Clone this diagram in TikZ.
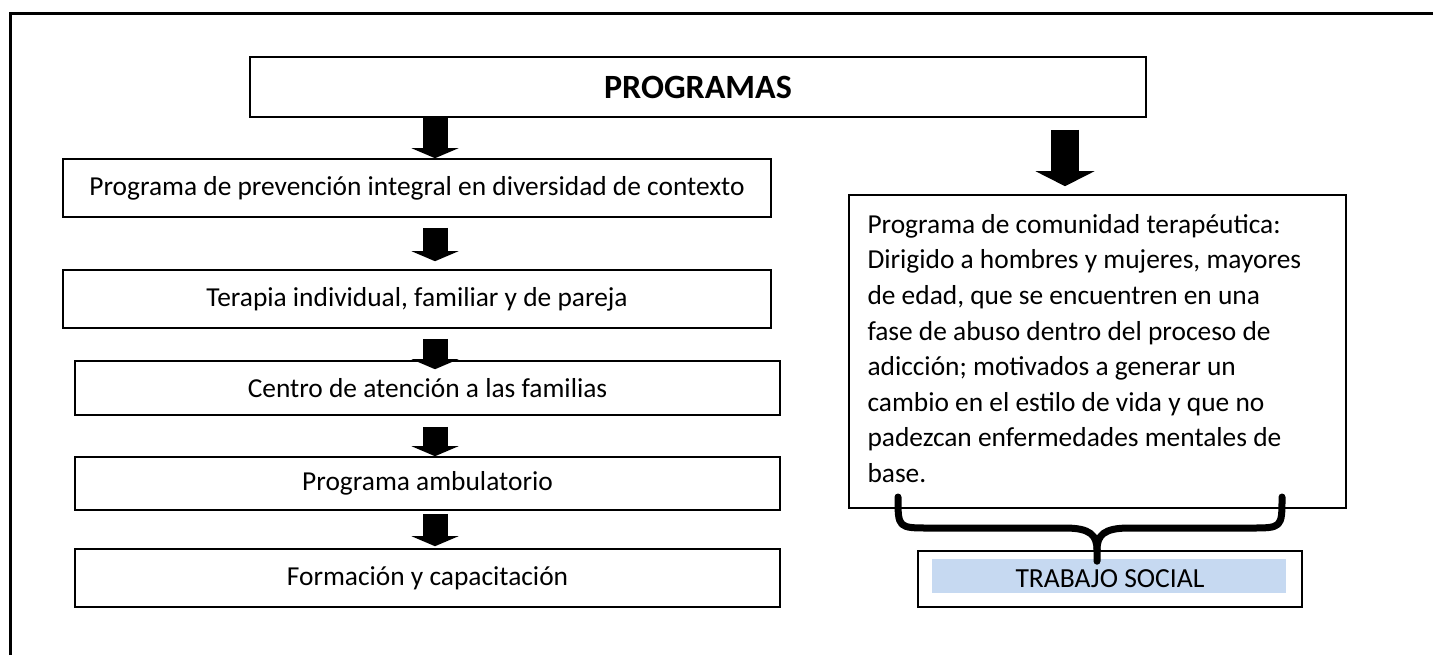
\documentclass[tikz,border=0pt]{standalone}
\usepackage{fontspec}
\setmainfont{Carlito}
\usetikzlibrary{arrows.meta,calc}
\definecolor{tsblue}{HTML}{C6D9F1}
\begin{document}
\begin{tikzpicture}[x=0.5pt,y=-0.5pt,
  box/.style={draw, line width=0.8pt, inner sep=0pt, align=flush center, font=\fontsize{13.7}{17.8}\selectfont},
  barrow/.style={line width=12.5pt, -{Triangle[width=23.5pt,length=5pt,line width=0pt]}},
  bigarrow/.style={line width=14pt, -{Triangle[width=29.5pt,length=7.5pt,line width=0pt]}},
  brace/.style={line width=3.5pt, line cap=round, line join=round}]
\useasboundingbox (0,0) rectangle (1433,655);
\draw[line width=1.5pt] (10,655) -- (10,13) -- (1433,13);

\node[box, minimum width=448pt, minimum height=30pt, font=\fontsize{17}{20}\selectfont\bfseries] (prog) at (698,87) {PROGRAMAS};
\node[box, minimum width=354pt, minimum height=29pt] (b1) at (417,188) {Programa de prevención integral en diversidad de contexto};
\node[box, minimum width=354pt, minimum height=29pt] (b2) at (417,299) {Terapia individual, familiar y de pareja};
\node[box, minimum width=352.5pt, minimum height=27pt] (b3) at (427.5,388) {Centro de atención a las familias};
\node[box, minimum width=352.5pt, minimum height=26.5pt] (b4) at (427.5,483.5) {Programa ambulatorio};
\node[box, minimum width=352.5pt, minimum height=29pt] (b5) at (427.5,578) {Formación y capacitación};

\node[box, minimum width=248.5pt, minimum height=156.5pt] (rb) at (1097.5,351.5) {};
\node[align=flush left, text width=230pt, inner sep=0pt, font=\fontsize{13.7}{17.8}\selectfont] (rbt) at ($(rb.center)+(0,-3)$)
 {Programa de comunidad terapéutica:\\
  Dirigido a hombres y mujeres, mayores\\
  de edad, que se encuentren en una\\
  fase de abuso dentro del proceso de\\
  adicción; motivados a generar un\\
  cambio en el estilo de vida y que no\\
  padezcan enfermedades mentales de\\
  base.};

\node[fill=tsblue, minimum width=177pt, minimum height=17pt, inner sep=0pt] (tsfill) at (1109,576) {};
\node[box, minimum width=192pt, minimum height=28pt, font=\fontsize{13.8}{17}\selectfont] (ts) at (1110,579) {TRABAJO SOCIAL};

\coordinate (ax) at (435,0);
\coordinate (rx) at (1065,0);
\draw[barrow] (ax |- prog.south) -- (ax |- b1.north);
\draw[barrow] ($(ax |- b1.south)+(0,10)$) -- ($(ax |- b2.north)+(0,-8)$);
\draw[barrow] ($(ax |- b2.south)+(0,10)$) -- ($(ax |- b3.north)+(0,9)$);
\draw[barrow] ($(ax |- b3.south)+(0,11)$) -- (ax |- b4.north);
\draw[barrow] ($(ax |- b4.south)+(0,3)$) -- ($(ax |- b5.north)+(0,-2)$);
\draw[bigarrow] ($(rx |- prog.south)+(0,12)$) -- ($(rx |- rb.north)+(0,-8)$);

\coordinate (tip) at ($(ts.north)+(-13,11)$);
\draw[brace] (898,497) .. controls (898,528) and (898,528) .. (930,528) -- (1065,528)
  .. controls (1090,528) and (1097,535) .. (1097,550) -- (tip);
\draw[brace] (1282,497) .. controls (1282,528) and (1282,528) .. (1250,528) -- (1129,528)
  .. controls (1104,528) and (1097,535) .. (1097,550);
\end{tikzpicture}
\end{document}
